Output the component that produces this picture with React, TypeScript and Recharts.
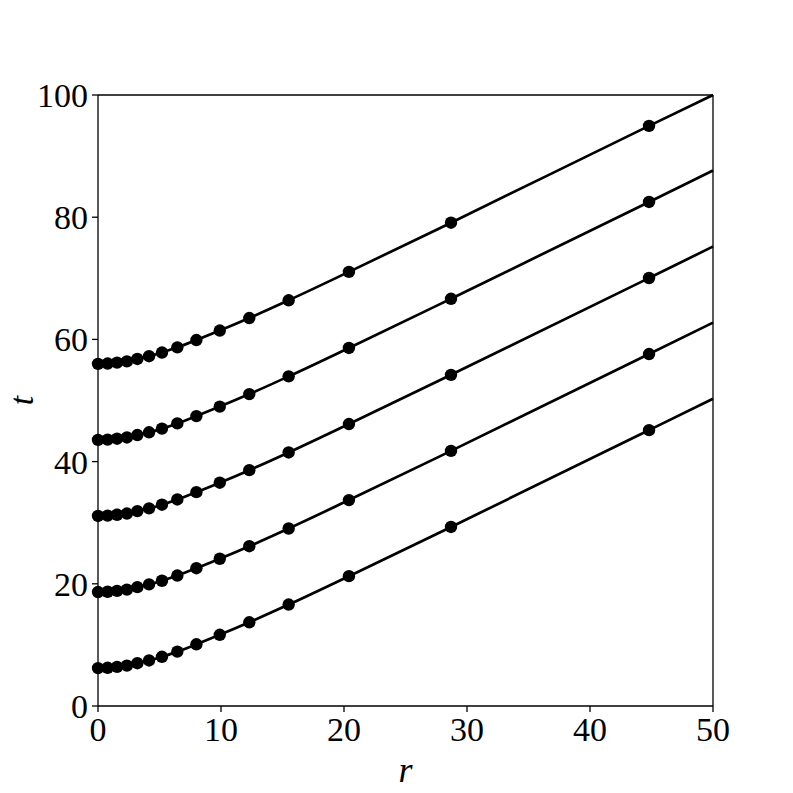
import { LineChart, Line, XAxis, YAxis, ReferenceLine } from 'recharts'

// radial positions of the markers, last entry is the line end (no marker)
const rValues = [0, 0.78, 1.55, 2.35, 3.2, 4.15, 5.2, 6.45, 8.0, 9.9, 12.3, 15.5, 20.4, 28.7, 44.8, 50]

const curve1 = [6.2, 6.25, 6.4, 6.6, 7.0, 7.45, 8.05, 8.9, 10.1, 11.65, 13.7, 16.6, 21.25, 29.3, 45.15, 50.3]
const curve2 = [18.65, 18.7, 18.85, 19.05, 19.45, 19.9, 20.5, 21.35, 22.55, 24.1, 26.15, 29.05, 33.7, 41.75, 57.6, 62.75]
const curve3 = [31.1, 31.15, 31.3, 31.5, 31.9, 32.35, 32.95, 33.8, 35.0, 36.55, 38.6, 41.5, 46.15, 54.2, 70.05, 75.2]
const curve4 = [43.55, 43.6, 43.75, 43.95, 44.35, 44.8, 45.4, 46.25, 47.45, 49.0, 51.05, 53.95, 58.6, 66.65, 82.5, 87.65]
const curve5 = [56.0, 56.05, 56.2, 56.4, 56.8, 57.25, 57.85, 58.7, 59.9, 61.45, 63.5, 66.4, 71.05, 79.1, 94.95, 100]

const xTicks = [0, 10, 20, 30, 40, 50]
const yTicks = [0, 20, 40, 60, 80, 100]

const data = rValues.map((r, i) => ({
  r,
  c1: curve1[i],
  c2: curve2[i],
  c3: curve3[i],
  c4: curve4[i],
  c5: curve5[i],
}))

const font = '"Liberation Serif", "DejaVu Serif", serif'
const tickStyle = { fontFamily: font, fontSize: 34, fill: '#000' }

const renderDot = (props: any) => {
  const { cx, cy, index, dataKey } = props
  if (index === rValues.length - 1) return <g key={`${dataKey}-${index}`} />
  return <circle key={`${dataKey}-${index}`} cx={cx} cy={cy} r={6.2} fill="#000" stroke="none" />
}

const YLabel = ({ viewBox }: any) => {
  const x = 21
  const y = viewBox.y + viewBox.height / 2
  return (
    <text x={x} y={y} transform={`rotate(-90 ${x} ${y})`} textAnchor="middle" dominantBaseline="central"
      style={{ fontFamily: font, fontSize: 34, fontStyle: 'italic', fill: '#000' }}>
      t
    </text>
  )
}

const XLabel = ({ viewBox }: any) => {
  const x = viewBox.x + viewBox.width / 2
  return (
    <text x={x} y={782} textAnchor="middle"
      style={{ fontFamily: font, fontSize: 36, fontStyle: 'italic', fill: '#000' }}>
      r
    </text>
  )
}

const keys = ['c1', 'c2', 'c3', 'c4', 'c5']

export default function App() {
  return (
    <div style={{ position: 'absolute', left: 0, top: 0, background: '#fff' }}>
      <LineChart width={793} height={793} data={data} margin={{ top: 95, right: 80, bottom: 7, left: 8 }}>
        <XAxis
          type="number"
          dataKey="r"
          domain={[0, 50]}
          ticks={xTicks}
          height={80}
          tickSize={6}
          tickMargin={5}
          tick={tickStyle}
          stroke="#000"
          strokeWidth={1.3}
          label={<XLabel />}
        />
        <YAxis
          type="number"
          domain={[0, 100]}
          ticks={yTicks}
          width={90}
          tickSize={6}
          tickMargin={4}
          tick={tickStyle}
          stroke="#000"
          strokeWidth={1.3}
          label={<YLabel />}
        />
        <ReferenceLine y={100} stroke="#000" strokeWidth={1.3} />
        <ReferenceLine x={50} stroke="#000" strokeWidth={1.3} />
        {keys.map((k) => (
          <Line
            key={k}
            dataKey={k}
            type="monotone"
            stroke="#000"
            strokeWidth={2.7}
            dot={renderDot}
            activeDot={false}
            isAnimationActive={false}
          />
        ))}
      </LineChart>
    </div>
  )
}
